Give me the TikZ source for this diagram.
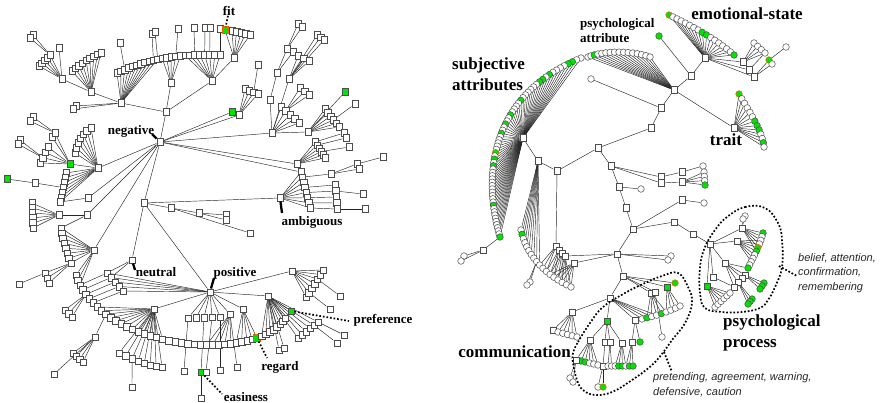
\documentclass[tikz,border=0pt]{standalone}
\usepackage{fontspec}
\setmainfont{Liberation Serif}
\setsansfont{Liberation Sans}
\definecolor{hi}{RGB}{0,228,0}
\pgfdeclarelayer{bg}\pgfsetlayers{bg,main}
\newcommand\leaves[6]{%
  \foreach \i [evaluate=\i as \lft using (\i-1)/(#2-1)] in {1,...,#2}{%
    \gdef\lfst{lf}%
    \foreach \g in {#5}{\ifnum\g=\i\relax\gdef\lfst{gr}\fi}%
    \foreach \g in {#6}{\ifnum\g=\i\relax\gdef\lfst{grr}\fi}%
    \path #4 node[#3,\lfst,pos=\lft] (#1-\i) {};%
  }}
\newcommand\hubfan[4]{\begin{pgfonlayer}{bg}\foreach \i in {#3,...,#4}{\draw[lnk] (#1) -- (#2-\i);}\end{pgfonlayer}}
\newcommand\edgs[1]{\begin{pgfonlayer}{bg}\foreach \ea/\eb in {#1}{\draw[lnk] (\ea) -- (\eb);}\end{pgfonlayer}}
\begin{document}
\begin{tikzpicture}[x=1pt,y=-1pt,
 sq/.style={rectangle,draw=black!70,fill=white,line width=0.5pt,minimum size=6.5pt,inner sep=0pt},
 ci/.style={circle,draw=black!70,fill=white,line width=0.5pt,minimum size=6.6pt,inner sep=0pt},
 lf/.style={},
 gr/.style={fill=hi},
 grr/.style={fill=hi,draw=orange!70!red},
 lnk/.style={draw=black!85,line width=0.45pt},
 lbl/.style={font=\bfseries\fontsize{13}{14}\selectfont,inner sep=0pt},
 biglbl/.style={font=\bfseries\fontsize{17}{21}\selectfont,align=left,inner sep=0pt},
 midlbl/.style={font=\bfseries\fontsize{13}{15}\selectfont,align=left,inner sep=0pt},
 itl/.style={font=\sffamily\itshape\fontsize{11}{14.5}\selectfont,align=left,inner sep=0pt,text=black!85},
 ptr/.style={line width=2.3pt,black},
 dotline/.style={line width=1.7pt,dash pattern=on 1.7pt off 1.9pt,black}]
\useasboundingbox (0,0) rectangle (882,403);
% ================= LEFT TREE =================
\node[sq] (neg) at (160,142) {};
\node[sq] (a1) at (166,112) {};
\node[sq] (b1) at (121,103) {};
\node[sq] (b2) at (171,83) {};
\node[sq] (b3) at (212,81) {};
\node[sq] (b4) at (234,58) {};
\leaves{ta}{24}{sq}{(117,73) .. controls (146,59) and (180,53) .. (220,55)}{0}{0}
\node[sq] (t1) at (152,34) {};
\node[sq] (t2) at (155,32) {};
\node[sq] (t3) at (178,29) {};
\node[sq] (t4) at (194,28) {};
\node[sq] (t5) at (205,28) {};
\node[sq] (t6) at (210,28) {};
\node[sq] (t7) at (220,29) {};
\node[sq,grr] (fit) at (225,30) {};
\leaves{tb}{5}{sq}{(232,31) -- (250,35)}{0}{0}
\hubfan{b1}{ta}{1}{11}\hubfan{b2}{ta}{12}{16}\hubfan{b3}{ta}{17}{24}\hubfan{b4}{tb}{1}{5}
\edgs{neg/a1,a1/b1,a1/b2,a1/b3,b3/b4,b4/fit,t1/ta-10,t2/ta-11,t3/ta-15,t4/ta-19,t5/ta-21,t6/ta-22,t7/ta-24}
\node[sq] (l1) at (76,106) {};
\node[sq] (l2) at (73,109) {};
\node[sq] (h1) at (91,92) {};
\leaves{hc}{9}{sq}{(72,71) .. controls (80,64) and (92,56) .. (101,53)}{0}{0}
\node[sq] (h2) at (62,79) {};
\leaves{hd}{5}{sq}{(39,66) -- (50,55)}{0}{0}
\node[sq] (h3) at (59,48) {};
\node[sq] (h4) at (33,35) {};
\node[sq] (h5) at (30,38) {};
\node[sq] (h6) at (120,43) {};
\hubfan{h1}{hc}{1}{9}\hubfan{h2}{hd}{1}{5}
\edgs{b1/l1,b1/l2,b1/h1,h1/h2,h2/h3,h4/hd-5,h5/hd-5,h6/ta-3}
\node[sq,gr] (g1) at (232,112) {};
\node[sq] (k1) at (239,115) {};
\leaves{kk}{4}{sq}{(245,89) -- (258,94)}{0}{0}
\node[sq] (k2) at (258,65) {};
\hubfan{k1}{kk}{1}{4}
\edgs{neg/g1,neg/k1,k2/kk-3}
\node[sq] (c1) at (272,133) {};
\node[sq] (c1a) at (270,100) {};
\node[sq] (c1b) at (277,73) {};
\node[sq] (c1c) at (289,79) {};
\node[sq] (c1d) at (287,49) {};
\node[sq] (c1e) at (293,52) {};
\node[sq] (c1f) at (298,24) {};
\node[sq] (c1g) at (302,27) {};
\leaves{ch}{3}{sq}{(298,56) -- (309,61)}{0}{0}
\leaves{cj}{3}{sq}{(317,35) -- (324,40)}{0}{0}
\leaves{cc}{5}{sq}{(281,107) -- (299,123)}{0}{0}
\leaves{cd}{3}{sq}{(300,88) -- (309,95)}{0}{0}
\hubfan{c1c}{ch}{1}{3}\hubfan{c1c}{cj}{1}{3}\hubfan{c1}{cc}{1}{5}\hubfan{cc-2}{cd}{1}{3}
\edgs{neg/c1,c1/c1a,c1a/c1b,c1b/c1d,c1b/c1e,c1d/c1f,c1d/c1g,c1/c1c}
\node[sq] (c2) at (308,132) {};
\leaves{ce}{6}{sq}{(325,109) -- (339,127)}{0}{0}
\node[sq,gr] (c2g) at (345,92) {};
\node[sq] (c2h) at (355,104) {};
\hubfan{c2}{ce}{1}{6}
\edgs{c1/c2,c2/c2g,ce-4/c2h}
\node[sq] (c3) at (297,164) {};
\leaves{cf}{6}{sq}{(315,142) -- (325,158)}{0}{0}
\node[sq] (c3a) at (344,133) {};
\node[sq] (c3b) at (346,138) {};
\node[sq] (c3c) at (349,147) {};
\hubfan{c3}{cf}{1}{6}
\edgs{neg/c3,cf-1/c3a,cf-2/c3b,cf-4/c3c}
\node[sq] (amb) at (280,198) {};
\leaves{am}{8}{sq}{(301,172) -- (310,208)}{0}{0}
\node[sq] (am2) at (331,174) {};
\node[sq] (am3) at (357,164) {};
\node[sq] (am4) at (359,169) {};
\node[sq] (am5) at (383,157) {};
\leaves{an}{5}{sq}{(335,185) -- (337,209)}{0}{0}
\node[sq] (an6) at (363,194) {};
\node[sq] (an7) at (365,209) {};
\hubfan{amb}{am}{1}{8}
\edgs{neg/am-1,am-2/am2,am2/am3,am2/am4,am3/am5,am-4/an-1,am-5/an-2,am-6/an-3,am-7/an-4,am-8/an-5,an-2/an6,an-5/an7}
\node[sq] (d1) at (98,168) {};
\leaves{dd}{7}{sq}{(75,153) .. controls (77,143) and (82,132) .. (91,128)}{0}{0}
\node[sq,gr] (g2) at (70,164) {};
\leaves{gd}{4}{sq}{(40,163) -- (48,147)}{0}{0}
\node[sq] (gd5) at (52,137) {};
\node[sq] (gd6) at (55,133) {};
\node[sq] (gp1) at (33,117) {};
\node[sq] (gp2) at (30,121) {};
\node[sq] (gp3) at (20,140) {};
\node[sq] (gp4) at (18,144) {};
\leaves{dc}{7}{sq}{(66,173) -- (60,202)}{0}{0}
\node[sq,gr] (g3) at (7,179) {};
\node[sq] (d6) at (35,183) {};
\node[sq] (d2) at (88,198) {};
\node[sq] (d3) at (87,215) {};
\node[sq] (d4) at (59,215) {};
\leaves{de}{6}{sq}{(32,203) -- (33,228)}{0}{0}
\node[sq] (d5) at (94,250) {};
\leaves{lc}{8}{sq}{(61,228) .. controls (63,240) and (66,252) .. (71,263)}{0}{0}
\hubfan{d1}{dd}{1}{7}\hubfan{g2}{gd}{1}{4}\hubfan{d1}{dc}{1}{7}\hubfan{d4}{de}{1}{6}\hubfan{d5}{lc}{1}{8}
\edgs{neg/d1,d1/g2,g2/gd5,g2/gd6,gp1/gd6,gp2/gd6,gp3/gd-2,gp4/gd-2,g3/d6,d6/dc-4,neg/d2,d2/dc-7,neg/d3,d3/d4,d3/lc-1,neg/d5}
\node[sq] (E0) at (144,203) {};
\node[sq] (f1) at (171,208) {};
\node[sq] (f2) at (199,213) {};
\node[sq] (f3) at (226,215) {};
\node[sq] (f4) at (226,220) {};
\node[sq] (f5) at (250,233) {};
\node[sq] (N) at (132,260) {};
\node[sq] (P) at (210,292) {};
\edgs{neg/E0,E0/f1,f1/f2,f2/f3,f2/f4,f1/f5,E0/N,E0/P,E0/amb}
\leaves{ba}{44}{sq}{(76,275) .. controls (100,350) and (255,365) .. (285,318)}{0}{36}
\leaves{pd}{5}{sq}{(107,273) -- (123,291)}{0}{0}
\node[sq] (ph5) at (154,309) {};
\leaves{la}{8}{sq}{(119,353) .. controls (135,360) and (148,366) .. (162,367)}{0}{0}
\node[sq] (lb) at (132,387) {};
\node[sq] (ph6) at (95,337) {};
\leaves{hq}{4}{sq}{(73,353) -- (83,362)}{0}{0}
\node[sq] (hr) at (54,374) {};
\leaves{tq}{3}{sq}{(65,310) -- (72,317)}{0}{0}
\leaves{lq}{3}{sq}{(45,273) -- (49,283)}{0}{0}
\node[sq] (lr) at (19,284) {};
\leaves{pm}{5}{sq}{(188,318) -- (220,317)}{0}{0}
\node[sq] (pb1) at (184,371) {};
\node[sq,gr] (eas) at (201,372) {};
\node[sq] (pb2) at (206,372) {};
\node[sq] (pb3) at (220,370) {};
\node[sq] (pb4) at (201,398) {};
\node[sq] (q1) at (230,314) {};
\node[sq] (pb5) at (237,367) {};
\node[sq] (q2) at (243,309) {};
\node[sq] (h7) at (268,296) {};
\node[sq] (pc1) at (279,350) {};
\node[sq] (pc2) at (284,348) {};
\node[sq,gr] (pref) at (291,311) {};
\leaves{pf}{6}{sq}{(298,338) -- (318,322)}{0}{0}
\node[sq] (pg1) at (337,343) {};
\node[sq] (pg2) at (344,335) {};
\node[sq] (h8) at (292,271) {};
\leaves{ph}{7}{sq}{(306,297) -- (323,270)}{0}{0}
\node[sq] (pi1) at (340,296) {};
\node[sq] (pi2) at (330,309) {};
\hubfan{d5}{ba}{1}{3}\hubfan{P}{pd}{1}{5}\hubfan{ph5}{ba}{8}{20}\hubfan{ph5}{la}{1}{8}\hubfan{ph6}{hq}{1}{4}\hubfan{ba-5}{tq}{1}{3}\hubfan{lc-8}{lq}{1}{3}\hubfan{P}{pm}{1}{5}\hubfan{q1}{ba}{27}{31}\hubfan{q2}{ba}{32}{36}\hubfan{h7}{ba}{37}{44}\hubfan{h7}{pf}{1}{6}\hubfan{h8}{ph}{1}{7}
\edgs{pd-1/ba-3,pd-2/ba-4,pd-3/ba-5,pd-4/ba-6,pd-5/ba-7,N/pd-1,N/pd-2,P/ph5,la-3/lb,ba-10/ph6,ph6/hr,lr/lq-1,pm-1/pb1,pm-3/eas,pm-4/pb2,pm-5/pb3,eas/pb4,P/q1,q1/pb5,P/q2,P/h7,h7/pc1,h7/pc2,h7/pref,pf-5/pg1,pf-6/pg2,P/h8,ph-5/pi1,ph-2/pi2}
% labels left
\node[lbl] (lneg) at (131,131) {negative};
\node[lbl] (lneu) at (156,272) {neutral};
\node[lbl] (lpos) at (235,273) {positive};
\node[lbl] (lamb) at (312,222) {ambiguous};
\node[lbl] (lpref) at (383,320) {preference};
\node[lbl] (lreg) at (280,367) {regard};
\node[lbl] (leas) at (246,397) {easiness};
\node[lbl] (lfit) at (229,11) {fit};
\coordinate (negp) at (152,134);
\coordinate (neup) at (135,270);
\coordinate (posp) at (214,278);
\coordinate (ambp) at (282,213);
\coordinate (prefp) at (349,321);
\coordinate (regp) at (267,358);
\coordinate (easp) at (222,394);
\draw[ptr] (neg) -- (negp);
\draw[ptr] (N) -- (neup);
\draw[ptr] (P) -- (posp);
\draw[ptr] (amb) -- (ambp);
\draw[dotline] (pref) -- (prefp);
\draw[dotline] (ba-36) -- (regp);
\draw[dotline] (eas) -- (easp);
\draw[dotline] (lfit) -- (fit);
% ================= RIGHT TREE =================
\node[sq] (pa) at (674,90) {};
\node[sq] (j5) at (661,108) {};
\node[sq] (j4) at (651,128) {};
\node[sq] (j3) at (598,148) {};
\node[sq] (j2) at (557,171) {};
\node[sq] (j1) at (538,161) {};
\node[sq] (s) at (523,138) {};
\leaves{pr}{16}{ci}{(588,57) .. controls (602,51) and (630,50) .. (650,57)}{3}{0}
\node[ci] (o1) at (591,79) {};
\node[sq] (k) at (691,76) {};
\node[ci,gr] (gc) at (659,36) {};
\node[sq] (em) at (705,58) {};
\leaves{ea}{17}{ci}{(669,15) .. controls (690,25) and (715,38) .. (734,55)}{9,10,17}{1}
\node[sq] (e1) at (743,62) {};
\node[sq] (e2) at (749,70) {};
\node[sq] (e3) at (754,77) {};
\leaves{eb}{4}{ci}{(754,43) -- (765,53)}{0}{0}
\node[ci,grr] (ec1) at (769,60) {};
\node[ci] (ec2) at (772,64) {};
\node[ci] (ec3) at (786,47) {};
\node[sq] (trh) at (734,128) {};
\leaves{tr}{13}{ci}{(739,94) .. controls (750,113) and (762,130) .. (764,147)}{7,8,9,12}{1}
\leaves{sa}{62}{ci}{(581,58) .. controls (490,95) and (482,175) .. (500,237)}{3,4,9,11,12,19,24,27,30,38,40,52,62}{36}
\leaves{sb}{18}{ci}{(521,230) .. controls (526,255) and (545,275) .. (571,287)}{2}{0}
\hubfan{pa}{pr}{1}{16}\hubfan{em}{ea}{1}{17}\hubfan{e1}{eb}{1}{4}\hubfan{trh}{tr}{1}{13}\hubfan{s}{sa}{1}{62}\hubfan{j1}{sb}{1}{10}
\edgs{pa/j5,j5/j4,j4/j3,j3/j2,j2/j1,j1/s,o1/j5,pa/k,k/em,k/gc,em/e1,em/e2,em/e3,e2/eb-4,e3/ec1,e3/ec2,ec1/ec3,pa/trh}
\node[sq] (x1) at (483,250) {};
\leaves{xc}{2}{ci}{(464,256) -- (461,261)}{0}{0}
\node[ci] (y1) at (530,282) {};
\node[ci] (y2) at (527,285) {};
\node[sq] (z1) at (556,246) {};
\node[sq] (z2) at (559,250) {};
\node[sq] (z3) at (562,253) {};
\node[sq] (z4) at (565,256) {};
\node[sq] (m1) at (611,166) {};
\node[sq] (m2) at (619,187) {};
\node[sq] (m3) at (626,208) {};
\node[sq] (q) at (633,229) {};
\node[sq] (n1) at (661,177) {};
\node[sq] (n2) at (661,183) {};
\node[sq] (n3) at (682,172) {};
\node[sq] (n4) at (682,182) {};
\node[ci] (nc0) at (703,166) {};
\leaves{nc}{4}{ci}{(704,172) -- (705,185)}{4}{0}
\node[ci] (m2c) at (641,189) {};
\node[sq] (w1) at (674,222) {};
\node[sq] (w2) at (693,234) {};
\node[sq] (pp) at (710,244) {};
\node[sq] (w3) at (682,200) {};
\node[ci] (w3c) at (704,203) {};
\node[sq] (R) at (617,254) {};
\node[sq] (z5) at (574,263) {};
\node[ci] (rc1) at (671,256) {};
\node[ci] (rc2) at (668,260) {};
\node[sq] (U) at (623,276) {};
\node[sq] (u1) at (651,293) {};
\node[sq] (u2) at (655,292) {};
\node[sq,gr] (u3) at (667,287) {};
\node[ci,grr] (u4) at (675,283) {};
\node[ci] (u2c) at (662,337) {};
\leaves{vr}{9}{ci}{(642,319) .. controls (655,316) and (668,312) .. (680,306)}{2,5}{0}
\node[sq] (V) at (610,298) {};
\node[sq] (vl) at (572,312) {};
\node[sq] (vl0) at (553,330) {};
\leaves{vc}{5}{ci}{(558,332) -- (577,337)}{0}{0}
\node[sq,gr] (gs) at (607,321) {};
\node[sq] (v3) at (635,320) {};
\node[sq] (gv1) at (590,340) {};
\node[sq] (gv2) at (605,342) {};
\node[sq] (gv3) at (610,342) {};
\node[sq] (gv4) at (622,343) {};
\node[sq] (gv5) at (632,342) {};
\node[ci,gr] (gv6) at (640,342) {};
\leaves{bo}{5}{ci}{(581,361) -- (598,365)}{1,2}{0}
\node[sq] (bs) at (603,366) {};
\leaves{bp}{8}{ci}{(608,366) -- (633,366)}{4,5,7,8}{0}
\node[sq] (bx) at (576,360) {};
\node[ci] (bxc1) at (570,378) {};
\node[ci] (bxc2) at (573,382) {};
\node[ci] (bsc1) at (598,387) {};
\node[ci,grr] (bsc2) at (603,387) {};
\node[sq] (pq1) at (742,228) {};
\node[ci] (pc0a) at (745,216) {};
\node[ci] (pc0b) at (743,219) {};
\leaves{ppa}{11}{ci}{(763,233) .. controls (760,245) and (753,258) .. (748,268)}{1,6,11}{5}
\node[sq] (pq2) at (737,241) {};
\node[sq] (pq3) at (725,263) {};
\node[sq] (pq4) at (713,277) {};
\node[sq] (pq5) at (745,275) {};
\node[sq] (pq6) at (742,278) {};
\node[sq] (pq7) at (738,282) {};
\node[sq] (pq8) at (734,287) {};
\leaves{pgc}{3}{ci}{(764,283) -- (760,289)}{1,2,3}{0}
\leaves{pgd}{3}{ci}{(752,299) -- (748,304)}{1,2,3}{0}
\node[sq,gr] (pg) at (707,286) {};
\leaves{pge}{6}{ci}{(715,307) -- (730,293)}{0}{0}
\hubfan{x1}{xc}{1}{2}\hubfan{z1}{sb}{10}{12}\hubfan{z2}{sb}{12}{14}\hubfan{z3}{sb}{13}{16}\hubfan{z4}{sb}{15}{18}\hubfan{z5}{sb}{13}{18}\hubfan{n4}{nc}{1}{4}\hubfan{V}{vr}{1}{4}\hubfan{u1}{vr}{2}{6}\hubfan{u3}{vr}{6}{9}\hubfan{vl}{vc}{1}{5}\hubfan{gv1}{bo}{1}{5}\hubfan{gv3}{bp}{1}{2}\hubfan{gv4}{bp}{3}{6}\hubfan{gv5}{bp}{6}{8}\hubfan{pq1}{ppa}{1}{6}\hubfan{pq2}{ppa}{3}{9}\hubfan{pq5}{pgc}{1}{3}\hubfan{pq7}{pgd}{1}{3}\hubfan{pg}{pge}{1}{6}
\edgs{sa-62/x1,sb-9/y1,sb-9/y2,j2/z1,z1/z2,z2/z3,z3/z4,j3/m1,m1/m2,m2/m3,m3/q,m1/n1,m1/n2,n1/n3,n2/n4,n3/nc0,m2/m2c,q/w1,w1/w2,w2/pp,q/w3,w3/w3c,q/R,R/z5,R/z4,R/rc1,R/rc2,R/U,U/u1,U/u2,U/u3,U/u4,u2/u2c,U/V,V/vl,vl/vl0,V/gs,V/v3,v3/gv5,v3/gv6,gs/gv1,gs/gv2,gs/gv3,gs/gv4,gv1/bx,gv2/bs,bx/bxc1,bx/bxc2,bs/bsc1,bs/bsc2,pp/pq1,pq1/pc0a,pq1/pc0b,pp/pq2,pp/pq3,pp/pq4,pp/pg,pq3/pq5,pq3/pq6,pq3/pq7,pq3/pq8,pq3/ppa-11,pq4/pq8}
% outlines
\draw[dotline] plot[smooth cycle,tension=0.7] coordinates {(727,217) (745,207) (765,208) (778,223) (782,240) (782,267) (775,287) (768,300) (760,308) (742,312) (722,312) (705,308) (700,293) (700,267) (705,247) (715,230)};
\draw[dotline] plot[smooth cycle,tension=0.7] coordinates {(573,353) (578,342) (590,323) (603,307) (625,293) (645,283) (662,276) (678,273) (688,287) (692,303) (685,323) (672,340) (665,350) (652,365) (632,380) (612,392) (595,395) (583,390) (577,380) (573,363)};
\coordinate (ppt1) at (779,266);
\coordinate (ppt2) at (797,276);
\coordinate (cmt1) at (664,352);
\coordinate (cmt2) at (672,372);
\draw[dotline] (ppt1) -- (ppt2);
\draw[dotline] (cmt1) -- (cmt2);
% labels right
\node[biglbl] (lemo) at (747,14) {emotional-state};
\node[midlbl,anchor=west] (lpa) at (580,30.5) {psychological\\attribute};
\node[biglbl,anchor=west] (lsub) at (452,74) {subjective\\attributes};
\node[biglbl] (ltrait) at (726,140) {trait};
\node[biglbl,anchor=west] (lpp) at (723,332.5) {psychological\\process};
\node[biglbl,anchor=east] (lcomm) at (571,352) {communication};
\node[itl,anchor=west] (lbel) at (798,273) {belief, attention,\\confirmation,\\remembering};
\node[itl,anchor=west] (lpre) at (653,384.5) {pretending, agreement, warning,\\defensive, caution};
\end{tikzpicture}
\end{document}
